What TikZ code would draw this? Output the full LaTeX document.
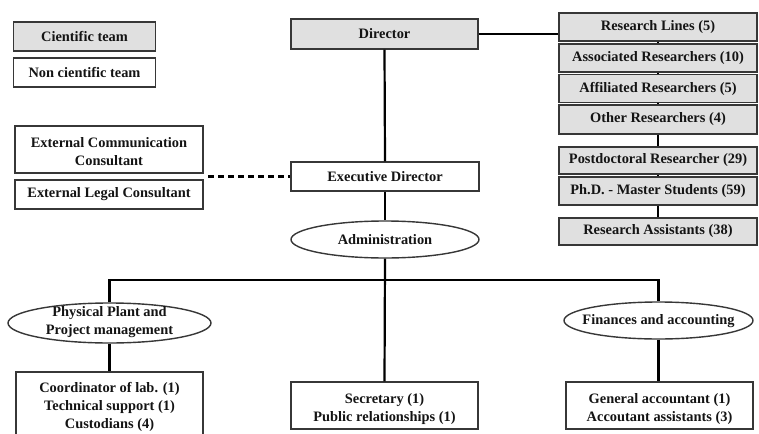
\documentclass[tikz,border=0pt]{standalone}
\usepackage{fontspec}
\setmainfont{Liberation Serif}
\usetikzlibrary{shapes.geometric}
\definecolor{boxfill}{RGB}{224,224,224}
\definecolor{boxline}{RGB}{55,55,55}
\definecolor{txt}{RGB}{20,20,20}
\newcommand{\upstrut}[1]{\rule{0pt}{#1}}
\begin{document}
\begin{tikzpicture}[x=1pt,y=-1pt,
  every node/.style={font=\fontsize{14.4}{18}\selectfont\bfseries, text=txt, align=center, inner sep=0pt},
  gbox/.style={draw=boxline, line width=1.4pt, fill=boxfill, minimum height=28pt},
  wbox/.style={draw=boxline, line width=1.4pt, fill=white, minimum height=28pt},
  oval/.style={ellipse, draw=boxline, line width=1.4pt, fill=white},
  conn/.style={draw=black, line width=2.2pt},
  dashconn/.style={draw=black, line width=2.2pt, dash pattern=on 6pt off 4pt}]
\useasboundingbox (0,0) rectangle (759,433);
\clip (0,0) rectangle (759,433);

% legend
\node[gbox, minimum width=142pt, minimum height=29pt] (leg1) at (84.5,36.5) {Cientific team};
\node[wbox, minimum width=142pt, minimum height=29pt] (leg2) at (84.5,72.5) {Non cientific team};

% director
\node[gbox, minimum width=187pt, minimum height=30pt] (dir) at (384.5,34) {Director};

% research column
\node[gbox, minimum width=198pt] (rl)   at (658,27)    {Research Lines (5)};
\node[gbox, minimum width=198pt] (ass)  at (658,58)    {Associated Researchers (10)};
\node[gbox, minimum width=198pt] (aff)  at (658,88.5)  {Affiliated Researchers (5)};
\node[gbox, minimum width=198pt, minimum height=29pt] (oth)  at (658,119.5) {Other Researchers (4)};
\node[gbox, minimum width=198pt, minimum height=27pt] (post) at (658,160.5) {Postdoctoral Researcher (29)};
\node[gbox, minimum width=198pt] (phd)  at (658,191)   {Ph.D. - Master Students (59)};
\node[gbox, minimum width=198pt, minimum height=27pt] (ra)   at (658,231.5) {Research Assistants (38)};

% executive / administration
\node[wbox, minimum width=188pt, minimum height=29pt] (exec) at (385,176.5) {Executive Director};
\node[oval, minimum width=188pt, minimum height=37pt] (adm) at (385,239.5) {};
\node (admt) at (385,240) {Administration};

% external consultants
\node[wbox, minimum width=188pt, minimum height=47pt] (comm) at (109,149.5) {\upstrut{15pt}External Communication\\Consultant};
\node[wbox, minimum width=188pt, minimum height=29pt] (legal) at (109,194.5) {External Legal Consultant};
\coordinate (dashstart) at (208,176.5);

% lower level
\node[oval, minimum width=203pt, minimum height=40pt] (phys) at (109.5,323) {};
\node (physt) at (109.5,322) {Physical Plant and\\Project management};
\node[oval, minimum width=189pt, minimum height=37pt] (fin) at (658.5,320.5) {};
\node (fint) at (658.5,321) {Finances and accounting};
\node[wbox, minimum width=187pt, minimum height=68pt] (physbox) at (109.5,406) {\upstrut{13pt}Coordinator of lab. (1)\\Technical support (1)\\Custodians (4)};
\node[wbox, minimum width=187pt, minimum height=47pt] (sec) at (384.5,405.5) {\upstrut{17pt}Secretary (1)\\Public relationships (1)};
\node[wbox, minimum width=187pt, minimum height=47pt] (finbox) at (659.5,405.5) {\upstrut{17pt}General accountant (1)\\Accoutant assistants (3)};
\coordinate (bar) at (385,280);

% connectors
\draw[conn] (dir.east) -- (dir.east -| rl.west);
\draw[conn] (dir.south) -- (exec.north);
\draw[conn] (exec.south) -- (adm.north);
\draw[dashconn] (dashstart) -- (exec.west);
\draw[conn] (adm.south) -- (sec.north);
\draw[conn] (phys.north) |- (bar) -| (fin.north);
\draw[conn] (phys.south) -- (physbox.north);
\draw[conn] (fin.south) -- (fin.south |- finbox.north);
\draw[conn] (rl.south) -- (ass.north);
\draw[conn] (ass.south) -- (aff.north);
\draw[conn] (aff.south) -- (oth.north);
\draw[conn] (oth.south) -- (post.north);
\draw[conn] (post.south) -- (phd.north);
\draw[conn] (phd.south) -- (ra.north);
\end{tikzpicture}
\end{document}
